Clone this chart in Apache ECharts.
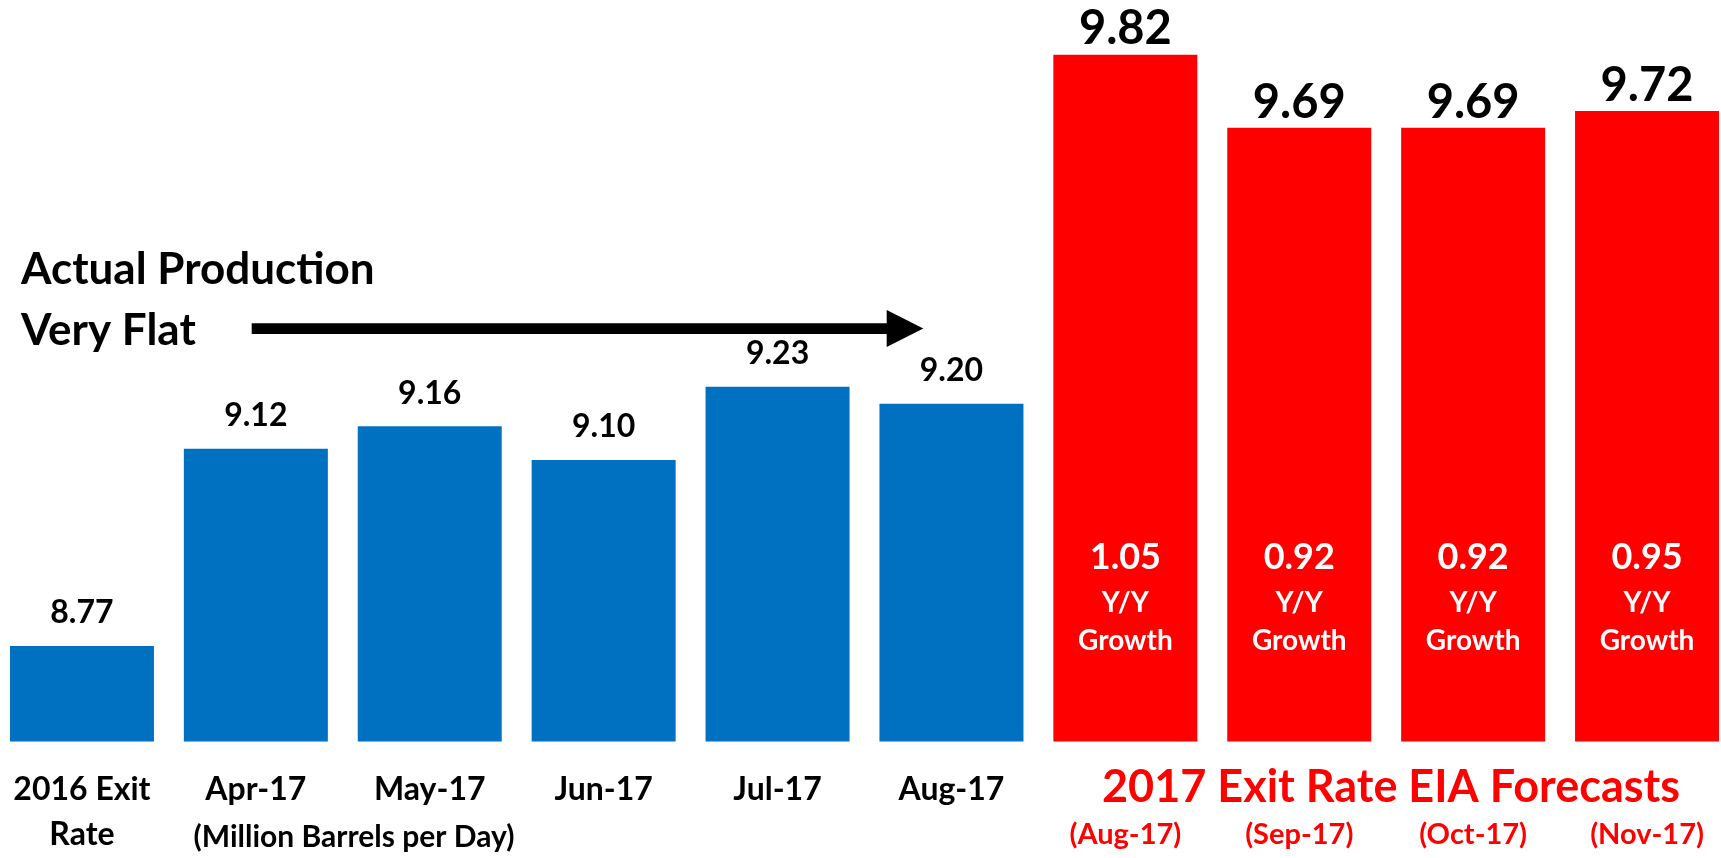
<!DOCTYPE html>
<html>
<head>
<meta charset="utf-8">
<script src="https://cdn.jsdelivr.net/npm/echarts/dist/echarts.min.js"></script>
<style>
  html, body { margin: 0; padding: 0; background: #ffffff; }
  #chart { width: 1721px; height: 858px; }
</style>
</head>
<body>
<div id="chart"></div>
<script>
// ---- data ----
var categories = ['2016 Exit\nRate', 'Apr-17', 'May-17', 'Jun-17', 'Jul-17', 'Aug-17',
                  '(Aug-17)', '(Sep-17)', '(Oct-17)', '(Nov-17)'];
var actualValues = [8.77, 9.12, 9.16, 9.10, 9.23, 9.20, '-', '-', '-', '-'];
var forecastValues = ['-', '-', '-', '-', '-', '-', 9.82, 9.69, 9.69, 9.72];
var growthValues = [null, null, null, null, null, null, 1.05, 0.92, 0.92, 0.95];
var annotationText = 'Actual Production\nVery Flat';
var unitText = '(Million Barrels per Day)';
var forecastTitle = '2017 Exit Rate EIA Forecasts';

// ---- chart ----
var FONT = 'Lato, "Open Sans", sans-serif';
var BLUE = '#0070C0';
var RED = '#FF0000';
var chart = echarts.init(document.getElementById('chart'), null, { renderer: 'canvas' });

var option = {
  animation: false,
  backgroundColor: '#ffffff',
  grid: { left: -5, width: 1739, top: 9.6, height: 732, containLabel: false, outerBoundsMode: 'none' },
  xAxis: {
    type: 'category',
    data: categories,
    axisLine: { show: false },
    axisTick: { show: false },
    splitLine: { show: false },
    axisLabel: {
      interval: 0,
      margin: 26,
      formatter: function (value, idx) {
        if (idx < 6) {
          return value.split('\n').map(function (l) { return '{a|' + l + '}'; }).join('\n');
        }
        return '{s| }\n{r|' + value + '}';
      },
      rich: {
        a: { fontFamily: FONT, fontWeight: 'bold', fontSize: 32, lineHeight: 45, color: '#000' },
        s: { fontSize: 10, lineHeight: 45 },
        r: { fontFamily: FONT, fontWeight: 'bold', fontSize: 29, lineHeight: 45, color: RED }
      }
    }
  },
  yAxis: {
    type: 'value',
    min: 8.6,
    max: 9.9,
    show: false,
    splitLine: { show: false }
  },
  series: [
    {
      name: 'Actual',
      type: 'bar',
      data: actualValues,
      barWidth: 144,
      barGap: '-100%',
      silent: true,
      itemStyle: { color: BLUE },
      label: {
        show: true,
        position: 'top',
        distance: 17,
        fontFamily: FONT,
        fontWeight: 'bold',
        fontSize: 32,
        lineHeight: 32,
        color: '#000',
        formatter: function (p) { return Number(p.value).toFixed(2); }
      }
    },
    {
      name: 'Forecast',
      type: 'bar',
      data: forecastValues,
      barWidth: 144,
      barGap: '-100%',
      silent: true,
      itemStyle: { color: RED },
      label: {
        show: true,
        position: 'top',
        distance: 2,
        fontFamily: FONT,
        fontWeight: 'bold',
        fontSize: 47,
        lineHeight: 47,
        color: '#000',
        formatter: function (p) { return Number(p.value).toFixed(2); }
      }
    },
    {
      name: 'Growth',
      type: 'bar',
      data: forecastValues,
      barWidth: 144,
      barGap: '-100%',
      silent: true,
      itemStyle: { color: 'rgba(0,0,0,0)' },
      label: {
        show: true,
        position: 'insideBottom',
        distance: 82,
        color: '#fff',
        formatter: function (p) {
          var g = growthValues[p.dataIndex];
          return '{n|' + g.toFixed(2) + '}\n{y|Y/Y}\n{g|Growth}';
        },
        rich: {
          n: { fontFamily: FONT, fontWeight: 'bold', fontSize: 36, lineHeight: 53, color: '#fff' },
          y: { fontFamily: FONT, fontWeight: 'bold', fontSize: 28, lineHeight: 38, color: '#fff' },
          g: { fontFamily: FONT, fontWeight: 'bold', fontSize: 28, lineHeight: 38, color: '#fff' }
        }
      }
    }
  ],
  graphic: [
    {
      type: 'text',
      left: 21,
      top: 239.5,
      silent: true,
      style: {
        text: annotationText,
        fontFamily: FONT,
        fontWeight: 'bold',
        fontSize: 44,
        lineHeight: 61,
        fill: '#000'
      }
    },
    {
      type: 'line',
      silent: true,
      shape: { x1: 251.7, y1: 328.7, x2: 888, y2: 328.7 },
      style: { stroke: '#000', lineWidth: 10.7 }
    },
    {
      type: 'polygon',
      silent: true,
      shape: { points: [[886.7, 310], [923.3, 328.5], [886.7, 347]] },
      style: { fill: '#000' }
    },
    {
      type: 'text',
      silent: true,
      x: 354,
      y: 837,
      style: {
        text: unitText,
        fontFamily: FONT,
        fontWeight: 'bold',
        fontSize: 30,
        fill: '#000',
        align: 'center',
        verticalAlign: 'middle'
      }
    },
    {
      type: 'text',
      silent: true,
      x: 1391,
      y: 787.5,
      style: {
        text: forecastTitle,
        fontFamily: FONT,
        fontWeight: 'bold',
        fontSize: 45,
        fill: RED,
        align: 'center',
        verticalAlign: 'middle'
      }
    }
  ]
};
chart.setOption(option);
</script>
</body>
</html>
